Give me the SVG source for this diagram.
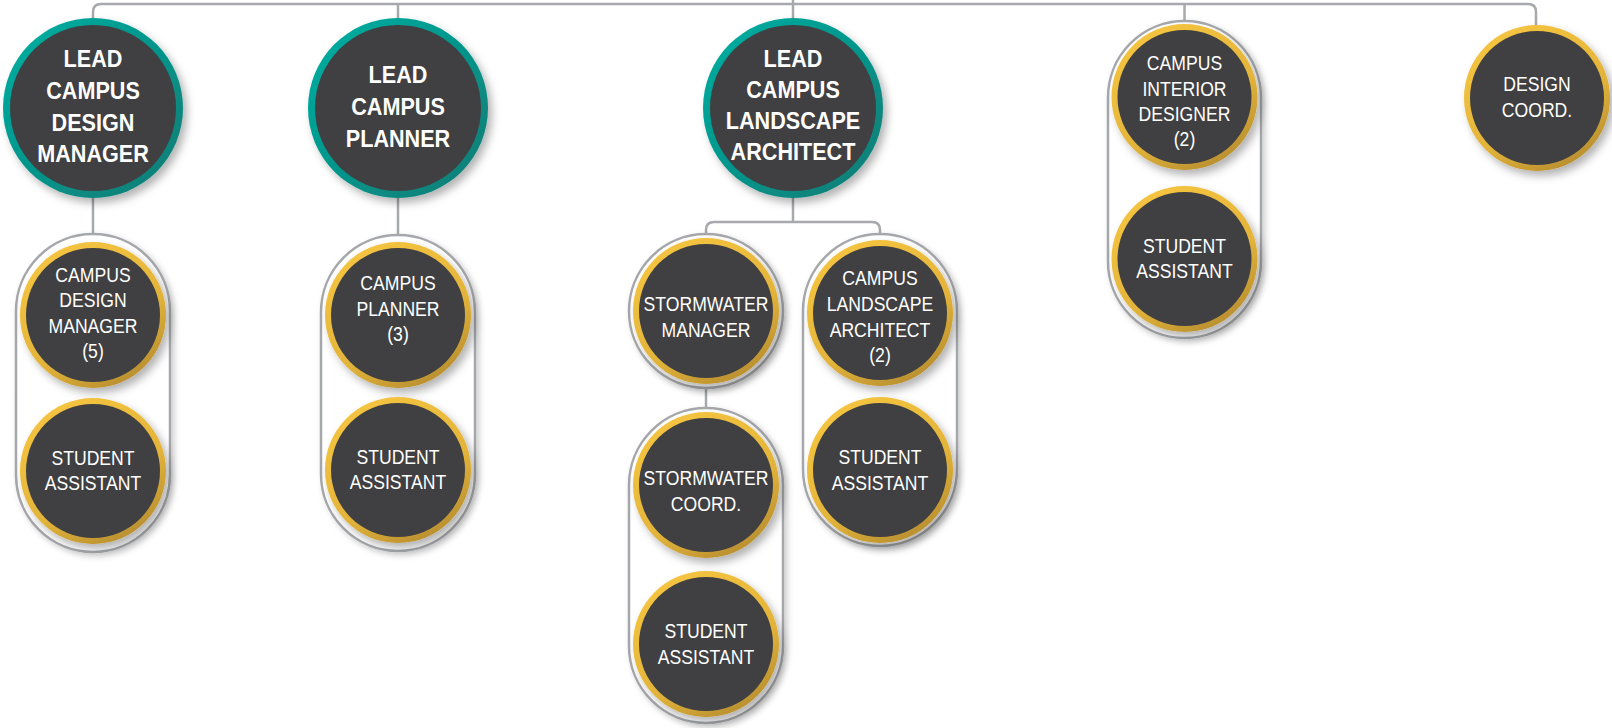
<svg xmlns="http://www.w3.org/2000/svg" width="1612" height="728" viewBox="0 0 1612 728">
<defs>
<linearGradient id="teal" x1="0" y1="0" x2="1" y2="1"><stop offset="0" stop-color="#00b0a3"/><stop offset="1" stop-color="#0b7a73"/></linearGradient>
<linearGradient id="gold" x1="0.2" y1="0" x2="0.8" y2="1"><stop offset="0" stop-color="#f6c540"/><stop offset="0.6" stop-color="#e3b43a"/><stop offset="1" stop-color="#b38a2e"/></linearGradient>
<filter id="sh" x="-20%" y="-20%" width="150%" height="150%"><feDropShadow dx="4" dy="5" stdDeviation="4" flood-color="#000" flood-opacity="0.3"/></filter>
<filter id="shp" x="-20%" y="-20%" width="150%" height="150%"><feDropShadow dx="3" dy="3" stdDeviation="3" flood-color="#000" flood-opacity="0.2"/></filter>
</defs>
<style>
.con{fill:none;stroke:#a7a9ac;stroke-width:2.5}
.pill{fill:#fff;stroke:#a5a7aa;stroke-width:2.5}
.inner{fill:#404042}
.b{font-family:"Liberation Sans",Arial,sans-serif;font-weight:bold;font-size:24px;fill:#fff;text-anchor:middle}
.r{font-family:"Liberation Sans",Arial,sans-serif;font-size:20px;fill:#fff;text-anchor:middle}
</style>
<g id="connectors">
<path class="con" d="M93,20 V12 Q93,4 101,4 H1528 Q1536,4 1536,12 V26"/>
<path class="con" d="M793,0 V20"/>
<path class="con" d="M398,4 V20"/>
<path class="con" d="M1184.5,4 V22"/>
<path class="con" d="M93,196 V234"/>
<path class="con" d="M398,196 V235"/>
<path class="con" d="M793,196 V222"/>
<path class="con" d="M706,234 V230 Q706,222 714,222 H872 Q880,222 880,230 V234"/>
<path class="con" d="M706,388 V408"/>
</g>
<g id="lead-design-manager">
<circle cx="93" cy="108" r="90" fill="url(#teal)" filter="url(#sh)"/>
<circle class="inner" cx="93" cy="108" r="83"/>
<g transform="matrix(0.9 0 0 1 93 0)"><text class="b"><tspan x="0" y="67">LEAD</tspan><tspan x="0" y="99">CAMPUS</tspan><tspan x="0" y="131">DESIGN</tspan><tspan x="0" y="162">MANAGER</tspan></text></g>
</g>
<g id="lead-planner">
<circle cx="398" cy="108" r="90" fill="url(#teal)" filter="url(#sh)"/>
<circle class="inner" cx="398" cy="108" r="83"/>
<g transform="matrix(0.9 0 0 1 398 0)"><text class="b"><tspan x="0" y="83">LEAD</tspan><tspan x="0" y="115">CAMPUS</tspan><tspan x="0" y="147">PLANNER</tspan></text></g>
</g>
<g id="lead-landscape">
<circle cx="793" cy="108" r="90" fill="url(#teal)" filter="url(#sh)"/>
<circle class="inner" cx="793" cy="108" r="83"/>
<g transform="matrix(0.9 0 0 1 793 0)"><text class="b"><tspan x="0" y="67">LEAD</tspan><tspan x="0" y="98">CAMPUS</tspan><tspan x="0" y="129">LANDSCAPE</tspan><tspan x="0" y="160">ARCHITECT</tspan></text></g>
</g>
<g id="pill-design">
<rect class="pill" x="16" y="234" width="154" height="318" rx="77" filter="url(#shp)"/>
</g>
<g id="campus-design-manager">
<circle cx="93" cy="315" r="73" fill="url(#gold)" filter="url(#sh)"/>
<circle class="inner" cx="93" cy="315" r="67"/>
<g transform="matrix(0.88 0 0 1 93 0)"><text class="r"><tspan x="0" y="282">CAMPUS</tspan><tspan x="0" y="307">DESIGN</tspan><tspan x="0" y="333">MANAGER</tspan><tspan x="0" y="358">(5)</tspan></text></g>
</g>
<g id="student-1">
<circle cx="93" cy="471" r="73" fill="url(#gold)" filter="url(#sh)"/>
<circle class="inner" cx="93" cy="471" r="67"/>
<g transform="matrix(0.88 0 0 1 93 0)"><text class="r"><tspan x="0" y="465">STUDENT</tspan><tspan x="0" y="490">ASSISTANT</tspan></text></g>
</g>
<g id="pill-planner">
<rect class="pill" x="321" y="235" width="154" height="316" rx="77" filter="url(#shp)"/>
</g>
<g id="campus-planner">
<circle cx="398" cy="315" r="73" fill="url(#gold)" filter="url(#sh)"/>
<circle class="inner" cx="398" cy="315" r="67"/>
<g transform="matrix(0.88 0 0 1 398 0)"><text class="r"><tspan x="0" y="290">CAMPUS</tspan><tspan x="0" y="316">PLANNER</tspan><tspan x="0" y="341">(3)</tspan></text></g>
</g>
<g id="student-2">
<circle cx="398" cy="470" r="73" fill="url(#gold)" filter="url(#sh)"/>
<circle class="inner" cx="398" cy="470" r="67"/>
<g transform="matrix(0.88 0 0 1 398 0)"><text class="r"><tspan x="0" y="464">STUDENT</tspan><tspan x="0" y="489">ASSISTANT</tspan></text></g>
</g>
<g id="stormwater-manager">
<circle class="pill" cx="706" cy="311" r="77" filter="url(#shp)"/>
<circle cx="706" cy="311" r="73" fill="url(#gold)" filter="url(#sh)"/>
<circle class="inner" cx="706" cy="311" r="67"/>
<g transform="matrix(0.88 0 0 1 706 0)"><text class="r"><tspan x="0" y="311">STORMWATER</tspan><tspan x="0" y="337">MANAGER</tspan></text></g>
</g>
<g id="pill-stormwater">
<rect class="pill" x="629" y="408" width="154" height="315" rx="77" filter="url(#shp)"/>
</g>
<g id="stormwater-coord">
<circle cx="706" cy="485" r="73" fill="url(#gold)" filter="url(#sh)"/>
<circle class="inner" cx="706" cy="485" r="67"/>
<g transform="matrix(0.88 0 0 1 706 0)"><text class="r"><tspan x="0" y="485">STORMWATER</tspan><tspan x="0" y="511">COORD.</tspan></text></g>
</g>
<g id="student-3">
<circle cx="706" cy="644" r="73" fill="url(#gold)" filter="url(#sh)"/>
<circle class="inner" cx="706" cy="644" r="67"/>
<g transform="matrix(0.88 0 0 1 706 0)"><text class="r"><tspan x="0" y="638">STUDENT</tspan><tspan x="0" y="664">ASSISTANT</tspan></text></g>
</g>
<g id="pill-landscape">
<rect class="pill" x="803" y="234" width="154" height="312" rx="77" filter="url(#shp)"/>
</g>
<g id="campus-landscape-architect">
<circle cx="880" cy="313" r="73" fill="url(#gold)" filter="url(#sh)"/>
<circle class="inner" cx="880" cy="313" r="67"/>
<g transform="matrix(0.88 0 0 1 880 0)"><text class="r"><tspan x="0" y="285">CAMPUS</tspan><tspan x="0" y="311">LANDSCAPE</tspan><tspan x="0" y="337">ARCHITECT</tspan><tspan x="0" y="362">(2)</tspan></text></g>
</g>
<g id="student-4">
<circle cx="880" cy="470" r="73" fill="url(#gold)" filter="url(#sh)"/>
<circle class="inner" cx="880" cy="470" r="67"/>
<g transform="matrix(0.88 0 0 1 880 0)"><text class="r"><tspan x="0" y="464">STUDENT</tspan><tspan x="0" y="490">ASSISTANT</tspan></text></g>
</g>
<g id="pill-interior">
<rect class="pill" x="1108" y="21" width="153" height="317" rx="76.5" filter="url(#shp)"/>
</g>
<g id="campus-interior-designer">
<circle cx="1184.5" cy="97" r="73" fill="url(#gold)" filter="url(#sh)"/>
<circle class="inner" cx="1184.5" cy="97" r="67"/>
<g transform="matrix(0.88 0 0 1 1184.5 0)"><text class="r"><tspan x="0" y="70">CAMPUS</tspan><tspan x="0" y="96">INTERIOR</tspan><tspan x="0" y="121">DESIGNER</tspan><tspan x="0" y="146">(2)</tspan></text></g>
</g>
<g id="student-5">
<circle cx="1184.5" cy="259" r="73" fill="url(#gold)" filter="url(#sh)"/>
<circle class="inner" cx="1184.5" cy="259" r="67"/>
<g transform="matrix(0.88 0 0 1 1184.5 0)"><text class="r"><tspan x="0" y="253">STUDENT</tspan><tspan x="0" y="278">ASSISTANT</tspan></text></g>
</g>
<g id="design-coord">
<circle cx="1537" cy="98" r="73" fill="url(#gold)" filter="url(#sh)"/>
<circle class="inner" cx="1537" cy="98" r="67"/>
<g transform="matrix(0.88 0 0 1 1537 0)"><text class="r"><tspan x="0" y="91">DESIGN</tspan><tspan x="0" y="117">COORD.</tspan></text></g>
</g>
</svg>
